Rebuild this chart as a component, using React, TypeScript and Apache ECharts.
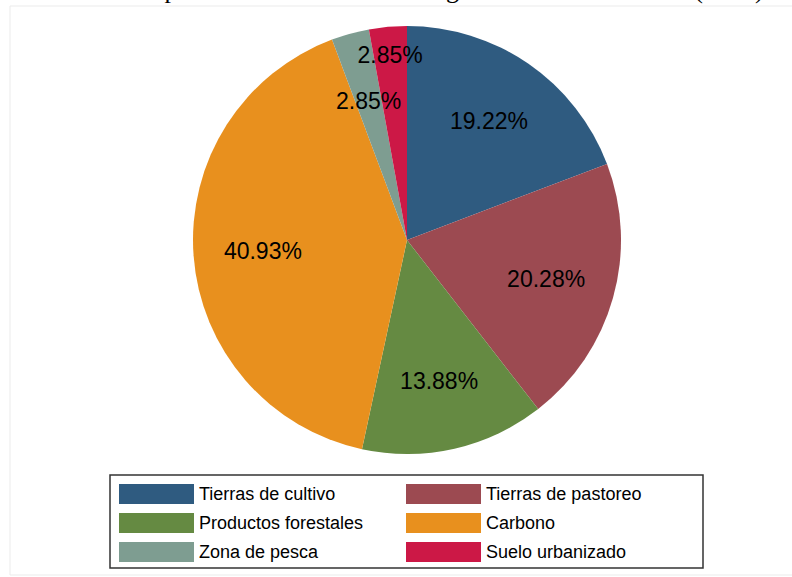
import React, { useEffect, useRef } from "react";
import * as echarts from "echarts";

const categories = [
  "Tierras de cultivo",
  "Tierras de pastoreo",
  "Productos forestales",
  "Carbono",
  "Zona de pesca",
  "Suelo urbanizado",
];
const shares = [19.22, 20.28, 13.88, 40.93, 2.85, 2.85];
const colors = ["#2f5b80", "#9c4a51", "#658a42", "#e8901e", "#7e9d91", "#cc1846"];
const legendLeft = ["Tierras de cultivo", "Productos forestales", "Zona de pesca"];
const legendRight = ["Tierras de pastoreo", "Carbono", "Suelo urbanizado"];
const titleText = "Gráfico 3. Componentes de la huella ecológica de América Latina (2012)";

export default function App() {
  const ref = useRef<HTMLDivElement>(null);
  useEffect(() => {
    if (!ref.current) return;
    const chart = echarts.init(ref.current, null, { renderer: "svg" });
    const colorOf = (n: string) => colors[categories.indexOf(n)];
    const legendCommon = {
      orient: "vertical",
      itemWidth: 75,
      itemHeight: 20,
      itemGap: 9,
      icon: "rect",
      selectedMode: false,
      textStyle: { fontSize: 18, color: "#000", fontFamily: "Liberation Sans, Arial, sans-serif" },
    };
    chart.setOption({
      animation: false,
      backgroundColor: "#ffffff",
      graphic: [
        {
          type: "rect",
          shape: { x: 10, y: 6, width: 790, height: 569 },
          style: { fill: "none", stroke: "#ebebeb", lineWidth: 1 },
          silent: true,
        },
        {
          type: "text",
          x: 2,
          y: -11,
          style: {
            text: titleText,
            fontSize: 26,
            fontFamily: "Liberation Serif, Times New Roman, serif",
            fill: "#000",
            verticalAlign: "middle",
          },
          silent: true,
        },
        {
          type: "rect",
          shape: { x: 110, y: 475, width: 593, height: 93 },
          style: { fill: "none", stroke: "#333", lineWidth: 1.5 },
          silent: true,
        },
      ],
      legend: [
        {
          ...legendCommon,
          left: 114,
          top: 479,
          data: legendLeft.map((n) => ({ name: n, itemStyle: { color: colorOf(n) } })),
        },
        {
          ...legendCommon,
          left: 401,
          top: 479,
          data: legendRight.map((n) => ({ name: n, itemStyle: { color: colorOf(n) } })),
        },
      ],
      series: [
        {
          type: "pie",
          center: [407, 240],
          radius: [0, 214],
          startAngle: 90,
          clockwise: true,
          silent: true,
          label: { show: false },
          labelLine: { show: false },
          itemStyle: { borderWidth: 0 },
          data: categories.map((n, i) => ({
            name: n,
            value: shares[i],
            itemStyle: { color: colors[i] },
          })),
        },
        {
          type: "pie",
          center: [407, 240],
          radius: [69, 214],
          startAngle: 90,
          clockwise: true,
          silent: true,
          labelLine: { show: false },
          itemStyle: { color: "rgba(0,0,0,0)", borderWidth: 0 },
          label: {
            show: true,
            position: "inside",
            fontSize: 23,
            color: "#000",
            fontFamily: "Liberation Sans, Arial, sans-serif",
            formatter: (p: any) => p.value.toFixed(2) + "%",
          },
          data: categories.map((n, i) => ({
            name: n,
            value: shares[i],
            label: i === 5 ? { offset: [-4, -41] } : undefined,
          })),
        },
      ],
    });
    return () => chart.dispose();
  }, []);
  return (
    <div
      ref={ref}
      style={{ position: "fixed", left: 0, top: 0, width: 792, height: 577 }}
    />
  );
}
